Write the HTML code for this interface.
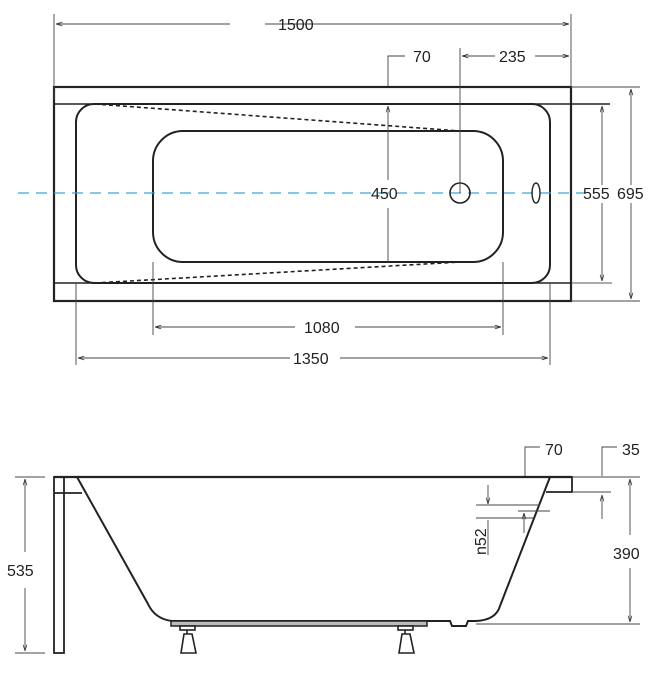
<!DOCTYPE html>
<html><head><meta charset="utf-8"><style>html,body{margin:0;padding:0;background:#fff}svg{display:block}text{font-family:"Liberation Sans",sans-serif;font-size:16px;fill:#222}</style></head><body>
<svg width="666" height="680" viewBox="0 0 666 680" xmlns="http://www.w3.org/2000/svg">
<defs><marker id="a" viewBox="0 0 10 10" refX="10" refY="5" markerWidth="7" markerHeight="7" orient="auto-start-reverse"><path d="M0,2 L10,5 L0,8" fill="none" stroke="#333" stroke-width="1.2"/></marker></defs>
<g fill="none" stroke="#222">
<rect x="54" y="87" width="517" height="214" stroke-width="2.2"/>
<line x1="54" y1="104" x2="610" y2="104" stroke-width="1.6"/>
<line x1="54" y1="283" x2="571" y2="283" stroke-width="1.6"/>
<line x1="571" y1="283" x2="612" y2="283" stroke-width="0.8"/>
<rect x="76" y="104" width="474" height="179" rx="18" stroke-width="2"/>
<rect x="153" y="131" width="350" height="131" rx="30" stroke-width="2"/>
<line x1="95" y1="104" x2="460" y2="131" stroke-width="1.6" stroke-dasharray="4,3"/>
<line x1="95" y1="283" x2="460" y2="262" stroke-width="1.6" stroke-dasharray="4,3"/>
<line x1="18" y1="193" x2="585" y2="193" stroke="#3aa6d6" stroke-width="1.3" stroke-dasharray="11,7"/>
<circle cx="460" cy="193" r="10" stroke-width="1.6"/>
<ellipse cx="536" cy="193" rx="4" ry="10" stroke-width="1.4"/>
<g stroke-width="0.9" stroke="#444">
<line x1="54" y1="14" x2="54" y2="100"/><line x1="571" y1="14" x2="571" y2="87"/>
<line x1="56" y1="24" x2="230" y2="24" marker-start="url(#a)"/><line x1="265" y1="24" x2="569" y2="24" marker-end="url(#a)"/>
<polyline points="388,86 388,56 405,56"/>
<line x1="460" y1="48" x2="460" y2="193"/>
<line x1="462" y1="56" x2="495" y2="56" marker-start="url(#a)"/><line x1="535" y1="56" x2="569" y2="56" marker-end="url(#a)"/>
<line x1="388" y1="106" x2="388" y2="180" marker-start="url(#a)"/><line x1="388" y1="208" x2="388" y2="262"/>
<line x1="571" y1="87" x2="640" y2="87"/><line x1="571" y1="301" x2="640" y2="301"/>
<line x1="602" y1="106" x2="602" y2="185" marker-start="url(#a)"/><line x1="602" y1="203" x2="602" y2="281" marker-end="url(#a)"/>
<line x1="631" y1="89" x2="631" y2="185" marker-start="url(#a)"/><line x1="631" y1="203" x2="631" y2="299" marker-end="url(#a)"/>
<line x1="153" y1="262" x2="153" y2="335"/><line x1="503" y1="262" x2="503" y2="335"/>
<line x1="155" y1="327" x2="295" y2="327" marker-start="url(#a)"/><line x1="355" y1="327" x2="501" y2="327" marker-end="url(#a)"/>
<line x1="76" y1="283" x2="76" y2="365"/><line x1="550" y1="283" x2="550" y2="365"/>
<line x1="78" y1="358" x2="290" y2="358" marker-start="url(#a)"/><line x1="340" y1="358" x2="548" y2="358" marker-end="url(#a)"/>
</g>
<line x1="54" y1="477" x2="572" y2="477" stroke-width="2.2"/>
<rect x="54" y="477" width="10" height="176" stroke-width="1.8"/>
<line x1="54" y1="493" x2="82" y2="493" stroke-width="1.8"/>
<path d="M77,477 L148,604 Q155,619 172,621 L430,621 L450,621 L452,626 L466,626 L468,621 L476,621 Q496,620 500,606 L550,477" stroke-width="2"/>
<path d="M550,477 L572,477 L572,492 L546,492" stroke-width="1.8"/>
<rect x="171" y="621" width="256" height="5" stroke-width="1.5" fill="#bbb"/>
<g stroke-width="1.6" fill="#fff">
<rect x="180" y="626" width="15" height="4"/><line x1="187" y1="630" x2="187" y2="634"/><path d="M184,634 L192,634 L196,653 L181,653 Z"/>
<rect x="398" y="626" width="15" height="4"/><line x1="405" y1="630" x2="405" y2="634"/><path d="M402,634 L410,634 L414,653 L399,653 Z"/>
</g>
<g stroke-width="0.9" stroke="#444">
<line x1="15" y1="477" x2="45" y2="477"/><line x1="15" y1="653" x2="45" y2="653"/>
<line x1="25" y1="479" x2="25" y2="552" marker-start="url(#a)"/><line x1="25" y1="588" x2="25" y2="651" marker-end="url(#a)"/>
<polyline points="525,476 525,447 540,447"/>
<polyline points="602,476 602,447 617,447"/>
<line x1="572" y1="477" x2="640" y2="477"/><line x1="572" y1="492" x2="611" y2="492"/>
<line x1="602" y1="495" x2="602" y2="519" marker-start="url(#a)"/>
<line x1="476" y1="624" x2="640" y2="624"/>
<line x1="630" y1="479" x2="630" y2="535" marker-start="url(#a)"/><line x1="630" y1="568" x2="630" y2="622" marker-end="url(#a)"/>
<line x1="488" y1="485" x2="488" y2="504" marker-end="url(#a)"/>
<line x1="476" y1="505" x2="540" y2="505"/><line x1="476" y1="518" x2="533" y2="518"/>
<line x1="518" y1="511" x2="550" y2="511"/>
<line x1="524" y1="533" x2="524" y2="513" marker-end="url(#a)"/>
<line x1="488" y1="520" x2="488" y2="555"/>
</g>
</g>
<text x="278" y="30">1500</text>
<text x="413" y="62">70</text>
<text x="499" y="62">235</text>
<text x="371" y="199">450</text>
<text x="583" y="199">555</text><text x="617" y="199">695</text>
<text x="304" y="333">1080</text>
<text x="293" y="364">1350</text>
<text x="545" y="455">70</text>
<text x="622" y="455">35</text>
<text x="7" y="576">535</text>
<text x="613" y="559">390</text>
<text transform="translate(486,555) rotate(-90)" font-size="13">n52</text>
</svg>
</body></html>
